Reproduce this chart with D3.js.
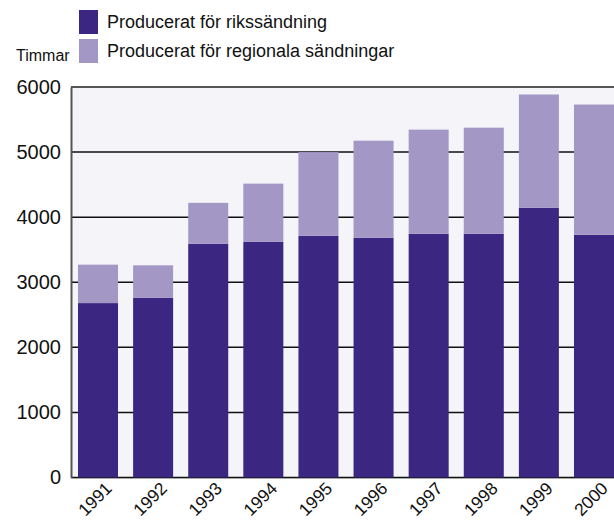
<!DOCTYPE html>
<html><head><meta charset="utf-8">
<script src="https://cdn.jsdelivr.net/npm/d3@7"></script>
<style>body{margin:0;background:#fff;}svg{display:block;font-family:"Liberation Sans",Arial,sans-serif;}</style>
</head><body>
<svg id="c" width="614" height="521"></svg>
<script>
const years = ["1991","1992","1993","1994","1995","1996","1997","1998","1999","2000"];
const riks = [2680, 2760, 3590, 3620, 3715, 3685, 3745, 3745, 4145, 3730];
const regional = [590, 500, 630, 895, 1285, 1490, 1600, 1630, 1740, 2000];
const yTicks = [0,1000,2000,3000,4000,5000,6000];
const seriesNames = ["Producerat för rikssändning","Producerat för regionala sändningar"];
const colors = ["#3b2782","#a397c6"];

const svg = d3.select("#c");
const plotL = 71, plotR = 614, yTop = 87, yBot = 477.5;
const x = d3.scaleBand().domain(years).range([78, 614]).paddingInner(0.274).paddingOuter(0);
const y = d3.scaleLinear().domain([0,6000]).range([yBot, yTop]);

svg.append("rect").attr("x",plotL).attr("y",yTop).attr("width",plotR-plotL).attr("height",yBot-yTop).attr("fill","#f4f4f9");

// gridlines
svg.append("g").selectAll("line").data(yTicks.filter(d=>d>0 && d<6000)).join("line")
  .attr("x1",plotL).attr("x2",plotR).attr("y1",d=>y(d)).attr("y2",d=>y(d))
  .attr("stroke","#111").attr("stroke-width",1.5);
svg.append("line").attr("x1",plotL).attr("x2",plotR).attr("y1",y(0)).attr("y2",y(0)).attr("stroke","#111").attr("stroke-width",1.5);

const data = years.map((yr,i)=>({yr, riks:riks[i], regional:regional[i]}));
const stack = d3.stack().keys(["riks","regional"])(data);
svg.append("g").selectAll("g").data(stack).join("g").attr("fill",(d,i)=>colors[i])
  .selectAll("rect").data(d=>d).join("rect")
  .attr("x",d=>x(d.data.yr)).attr("width",x.bandwidth())
  .attr("y",d=>y(d[1])).attr("height",d=>y(d[0])-y(d[1]));

// top border
svg.append("line").attr("x1",plotL).attr("x2",plotR).attr("y1",y(6000)).attr("y2",y(6000)).attr("stroke","#555").attr("stroke-width",2);
// bottom axis line
svg.append("line").attr("x1",plotL).attr("x2",plotR).attr("y1",yBot+1).attr("y2",yBot+1).attr("stroke","#aaa").attr("stroke-width",1);

// y axis
const yAxis = d3.axisLeft(y).tickValues(yTicks).tickSize(0).tickPadding(10).tickFormat(d3.format("d"));
const ga = svg.append("g").attr("transform",`translate(${plotL},0)`).call(yAxis);
ga.select(".domain").attr("stroke","#555").attr("stroke-width",2);
ga.selectAll("text").attr("font-size",20).attr("fill","#111").attr("font-family","Liberation Sans, Arial, sans-serif");

// x axis labels
const xAxis = d3.axisBottom(x).tickSize(0).tickPadding(0);
const gx = svg.append("g").attr("transform",`translate(0,${yBot})`).call(xAxis);
gx.select(".domain").remove();
gx.selectAll("text").attr("font-size",17.5).attr("fill","#111").attr("font-family","Liberation Sans, Arial, sans-serif")
  .attr("text-anchor","end").attr("y",0).attr("dy",0).attr("transform","translate(15,12) rotate(-45)");

// legend
svg.append("text").attr("x",16).attr("y",61).attr("font-size",16).attr("fill","#111").text("Timmar");
const lg = svg.append("g");
seriesNames.forEach((n,i)=>{
  lg.append("rect").attr("x",79).attr("y",10+i*29).attr("width",19).attr("height",24).attr("fill",colors[i]);
  lg.append("text").attr("x",107).attr("y",28+i*29).attr("font-size",18).attr("fill","#111").text(n);
});
</script>
</body></html>
